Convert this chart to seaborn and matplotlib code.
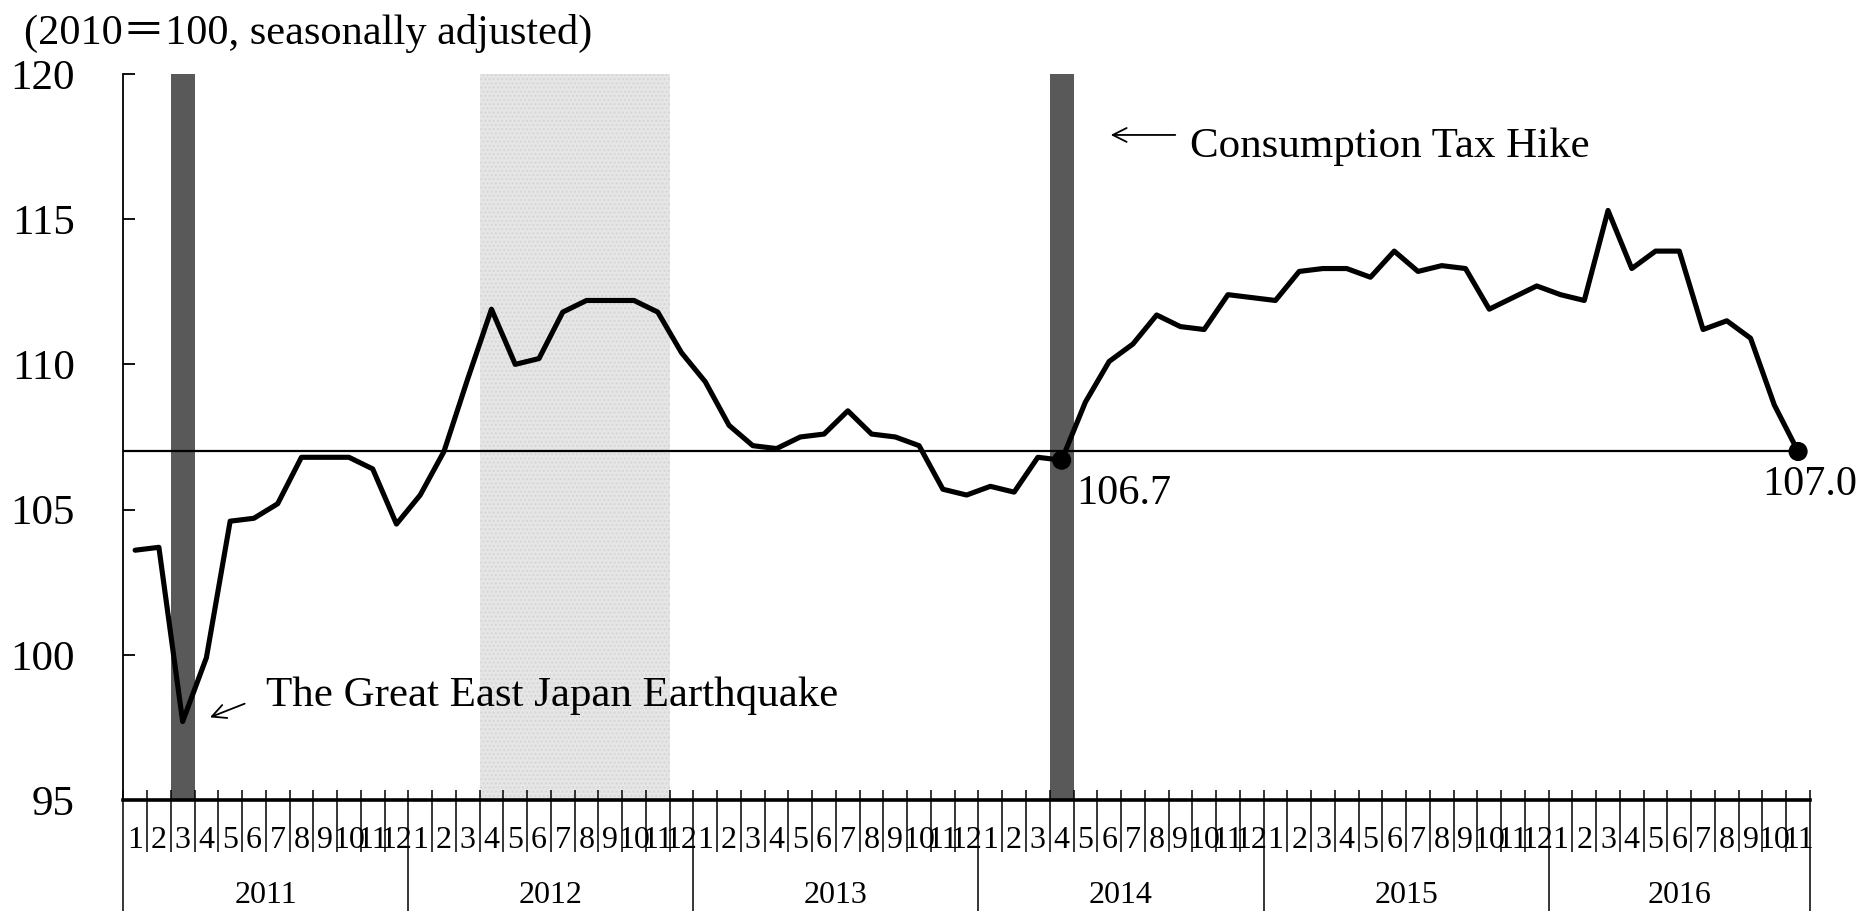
import numpy as np
import pandas as pd
import matplotlib
matplotlib.use('Agg')
import matplotlib.pyplot as plt
import seaborn as sns

## Monthly index values (2010=100, seasonally adjusted)
years = ['2011', '2012', '2013', '2014', '2015', '2016']
months_in_year = [12, 12, 12, 12, 12, 11]
index_2011 = [103.6, 103.7, 97.7, 99.9, 104.6, 104.7, 105.2, 106.8, 106.8, 106.8, 106.4, 104.5]
index_2012 = [105.5, 107.0, 109.5, 111.9, 110.0, 110.2, 111.8, 112.2, 112.2, 112.2, 111.8, 110.4]
index_2013 = [109.4, 107.9, 107.2, 107.1, 107.5, 107.6, 108.4, 107.6, 107.5, 107.2, 105.7, 105.5]
index_2014 = [105.8, 105.6, 106.8, 106.7, 108.7, 110.1, 110.7, 111.7, 111.3, 111.2, 112.4, 112.3]
index_2015 = [112.2, 113.2, 113.3, 113.3, 113.0, 113.9, 113.2, 113.4, 113.3, 111.9, 112.3, 112.7]
index_2016 = [112.4, 112.2, 115.3, 113.3, 113.9, 113.9, 111.2, 111.5, 110.9, 108.6, 107.0]

event_months = [('2011', 3), ('2014', 4)]          # dark bars
recession = (('2012', 4), ('2012', 11))            # light shading
highlight = [('2014', 4), ('2016', 11)]            # dots with value labels
ref_value = 107.0

###################################
values = index_2011 + index_2012 + index_2013 + index_2014 + index_2015 + index_2016
yr_col, mo_col = [], []
for y, n in zip(years, months_in_year):
  yr_col += [y] * n
  mo_col += list(range(1, n + 1))
df = pd.DataFrame({'year': yr_col, 'month': mo_col, 'value': values})
df['pos'] = np.arange(len(df)) + 0.5

def cell(y, m):
  return int(df.index[(df.year == y) & (df.month == m)][0])

sns.set_style('white')
plt.rcParams['font.family'] = ['Liberation Serif', 'Noto Sans CJK JP']
for k in ['text.color', 'axes.labelcolor', 'xtick.color', 'ytick.color']:
  plt.rcParams[k] = 'black'

fig = plt.figure(figsize=(18.76, 9.11), dpi=100)
ax = fig.add_axes([0.0657, 0.1219, 0.8991, 0.7969])

n = len(df)
ax.set_xlim(0, n)
ax.set_ylim(95, 120)

## shading
for y, m in event_months:
  c = cell(y, m)
  ax.axvspan(c, c + 1, color='#595959', lw=0, zorder=0)
c0, c1 = cell(*recession[0]), cell(*recession[1])
ax.axvspan(c0, c1 + 1, facecolor='#e6e6e6', edgecolor='#d6d6d6', hatch='....',
           lw=0, zorder=0)

## reference line and series
ax.plot([0, df.pos.iloc[-1]], [ref_value, ref_value], color='black', lw=1.6, zorder=2)
sns.lineplot(data=df, x='pos', y='value', color='black', lw=3.7, ax=ax, zorder=3)
hl = df.iloc[[cell(y, m) for y, m in highlight]]
sns.scatterplot(data=hl, x='pos', y='value', color='black', s=190,
                edgecolor='none', ax=ax, zorder=4)

ax.text(hl.pos.iloc[0] + 0.6, hl.value.iloc[0] - 1.15, '%.1f' % hl.value.iloc[0],
        fontsize=30.5, ha='left', va='center')
ax.text(hl.pos.iloc[1] + 0.5, hl.value.iloc[1] - 1.15, '%.1f' % hl.value.iloc[1],
        fontsize=30.5, ha='center', va='center')

## annotations
ax.annotate('', xy=(41.45, 117.9), xytext=(44.4, 117.9),
            arrowprops=dict(arrowstyle='->', color='black', lw=1.3,
                            mutation_scale=25))
ax.text(44.9, 117.5, 'Consumption Tax Hike', fontsize=31, ha='left', va='center')
ax.annotate('', xy=(3.54, 97.81), xytext=(5.22, 98.35),
            arrowprops=dict(arrowstyle='->', color='black', lw=1.3,
                            mutation_scale=25))
ax.text(6.0, 98.6, 'The Great East Japan Earthquake', fontsize=31,
        ha='left', va='center')

fig.text(0.0128, 0.963, '(2010\uff1d100, seasonally adjusted)', fontsize=30.5,
         ha='left', va='center')

## axes styling
for s in ['top', 'right']:
  ax.spines[s].set_visible(False)
ax.spines['left'].set_linewidth(1.3)
ax.spines['left'].set_color('black')
ax.spines['bottom'].set_linewidth(2.6)
ax.spines['bottom'].set_color('black')
ax.set_yticks(np.arange(95, 121, 5))
ax.tick_params(axis='y', direction='in', length=8.5, width=1.3, pad=35,
               labelsize=31, left=True, colors='black')
ax.set_xticks([])
ax.set_xlabel('')
ax.set_ylabel('')

## month / year category axis
trans = ax.get_xaxis_transform()
ax.vlines(np.arange(n + 1), -0.072, 0.014, transform=trans, color='black',
          lw=1.1, clip_on=False)
bounds = list(np.cumsum([0] + months_in_year))
ax.vlines(bounds, -0.155, -0.072, transform=trans, color='black', lw=1.1,
          clip_on=False)
for p, m in zip(df.pos, df.month):
  ax.text(p, -0.056, str(m), transform=trans, fontsize=23, ha='center', va='center')
for i, y in enumerate(years):
  ax.text((bounds[i] + bounds[i + 1]) / 2, -0.131, y, transform=trans,
          fontsize=23, ha='center', va='center')

plt.savefig('out.png', dpi=100)
